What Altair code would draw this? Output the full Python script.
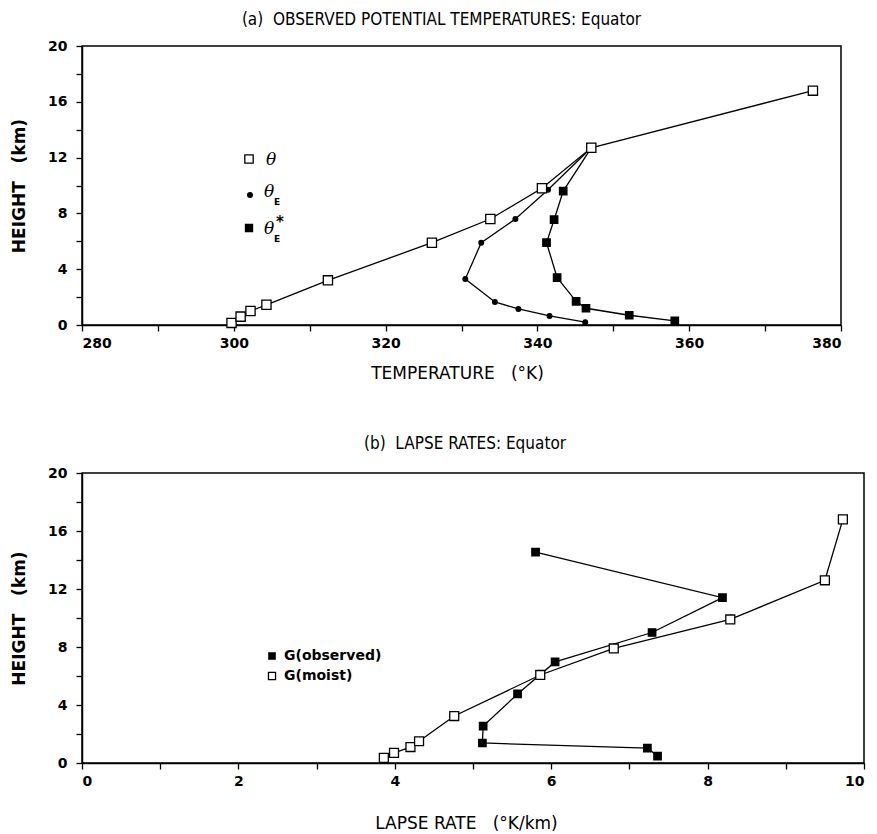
import altair as alt
import pandas as pd

# ---- (a) observed potential temperatures at the equator (K vs km) ----
theta_T = [299.7, 300.9, 302.2, 304.3, 312.4, 326.1, 333.8, 340.6, 347.1, 376.3]
theta_z = [0.15, 0.6, 1.0, 1.45, 3.2, 5.9, 7.6, 9.8, 12.7, 16.8]

theta_e_T = [346.3, 341.6, 337.5, 334.4, 330.5, 332.6, 337.1, 341.4, 347.1]
theta_e_z = [0.2, 0.65, 1.15, 1.65, 3.3, 5.9, 7.6, 9.7, 12.7]

theta_es_T = [358.1, 352.1, 346.4, 345.1, 342.6, 341.2, 342.2, 343.4, 347.1]
theta_es_z = [0.3, 0.7, 1.2, 1.7, 3.4, 5.9, 7.55, 9.6, 12.7]

# ---- (b) lapse rates at the equator (K/km vs km) ----
g_obs_rate = [7.36, 7.23, 5.12, 5.13, 5.57, 6.05, 7.29, 8.19, 5.8]
g_obs_z = [0.48, 1.03, 1.38, 2.55, 4.76, 6.97, 9.0, 11.4, 14.55]

g_moist_rate = [3.86, 3.99, 4.2, 4.31, 4.76, 5.86, 6.8, 8.29, 9.5, 9.73]
g_moist_z = [0.35, 0.7, 1.1, 1.5, 3.24, 6.07, 7.9, 9.9, 12.6, 16.8]

temp_ticks = list(range(280, 381, 10))
rate_ticks = list(range(0, 11, 1))
height_ticks = list(range(0, 21, 2))

LABEL_FONT = "DejaVu Sans"
TITLE_FONT = "'Liberation Sans Narrow', 'DejaVu Sans Condensed', 'Roboto Condensed', 'Liberation Sans', sans-serif"
NB = "\u00a0"


def frame(xs, ys):
    return pd.DataFrame({"x": xs, "y": ys, "i": range(len(xs))})


def encodings(xdom, xticks, xlabel_every, xtitle, xtitle_pad, xtitle_x):
    x = alt.X(
        "x:Q",
        scale=alt.Scale(domain=xdom, nice=False, zero=False),
        axis=alt.Axis(
            values=xticks,
            labelExpr=f"datum.value % {xlabel_every} == 0 ? datum.label : ''",
            title=xtitle,
            titlePadding=xtitle_pad,
            titleFontWeight="normal",
            titleX=xtitle_x,
        ),
    )
    y = alt.Y(
        "y:Q",
        scale=alt.Scale(domain=[0, 20], nice=False),
        axis=alt.Axis(
            values=height_ticks,
            labelExpr="datum.value % 4 == 0 ? datum.label : ''",
            title=f"HEIGHT{NB}{NB}{NB}(km)",
            titleFontWeight="bold",
            titleFontSize=17,
            titlePadding=19,
            labelPadding=9,
        ),
    )
    return x, y


def profile(df, x, y, shape, size, fill):
    base = alt.Chart(df).encode(x=x, y=y, order="i:Q")
    line = base.mark_line(color="black", strokeWidth=1.3)
    pts = base.mark_point(
        shape=shape, size=size, filled=True, fill=fill,
        stroke="black", strokeWidth=1.3, opacity=1,
    )
    return [line, pts]


one = pd.DataFrame({"k": [0]})


def key_point(px, py, shape, size, fill):
    return alt.Chart(one).mark_point(
        shape=shape, size=size, filled=True, fill=fill,
        stroke="black", strokeWidth=1.3, opacity=1,
    ).encode(x=alt.value(px), y=alt.value(py))


def key_text(px, py, txt, font, size, weight="normal", style="normal"):
    return alt.Chart(one).mark_text(
        text=txt, font=font, fontSize=size, fontWeight=weight, fontStyle=style,
        align="left", baseline="middle", color="black",
    ).encode(x=alt.value(px), y=alt.value(py))


# panel (a)
xa, ya = encodings([280, 380], temp_ticks, 20, f"TEMPERATURE{NB}{NB}{NB}(°K)", 15, 375)
layers_a = []
layers_a += profile(frame(theta_e_T, theta_e_z), xa, ya, "circle", 22, "black")
layers_a += profile(frame(theta_es_T, theta_es_z), xa, ya, "square", 55, "black")
layers_a += profile(frame(theta_T, theta_z), xa, ya, "square", 85, "white")
layers_a += [
    key_point(167, 113, "square", 70, "white"),
    key_text(184, 114, "θ", "DejaVu Serif", 17, style="italic"),
    key_point(168, 149, "circle", 22, "black"),
    key_text(182, 146, "θ", "DejaVu Serif", 17, style="italic"),
    key_text(192, 156, "E", LABEL_FONT, 9, weight="bold"),
    key_point(167, 182, "square", 50, "black"),
    key_text(182, 183, "θ", "DejaVu Serif", 17, style="italic"),
    key_text(192, 193, "E", LABEL_FONT, 9, weight="bold"),
    key_text(194, 176, "*", LABEL_FONT, 15, weight="bold"),
]
panel_a = alt.layer(*layers_a).properties(
    width=759, height=279,
    title=alt.TitleParams(
        f"(a){NB}{NB}OBSERVED POTENTIAL TEMPERATURES: Equator",
        anchor="middle", frame="group", dx=-20, offset=10,
    ),
)

# panel (b)
xb, yb = encodings([0, 10], rate_ticks, 2, f"LAPSE RATE{NB}{NB}{NB}(°K/km)", 27, 384)
layers_b = []
layers_b += profile(frame(g_obs_rate, g_obs_z), xb, yb, "square", 55, "black")
layers_b += profile(frame(g_moist_rate, g_moist_z), xb, yb, "square", 80, "white")
layers_b += [
    key_point(190, 183, "square", 40, "black"),
    key_text(202, 183, "G(observed)", LABEL_FONT, 14, weight="bold"),
    key_point(190, 203, "square", 50, "white"),
    key_text(202, 203, "G(moist)", LABEL_FONT, 14, weight="bold"),
]
panel_b = alt.layer(*layers_b).properties(
    width=782, height=290,
    title=alt.TitleParams(
        f"(b){NB}{NB}LAPSE RATES: Equator",
        anchor="middle", frame="group", dx=-8, offset=13,
    ),
)

chart = (
    alt.vconcat(panel_a, panel_b, spacing=52)
    .properties(padding={"left": 9, "top": 10, "right": 5, "bottom": 5}, background="white")
    .configure_view(stroke="black", strokeWidth=1.5)
    .configure_axis(
        grid=False,
        domainColor="black", domainWidth=1.5,
        tickColor="black", tickWidth=1.3, tickSize=6,
        labelFont=LABEL_FONT, labelFontWeight="bold", labelFontSize=14,
        labelColor="black", labelPadding=5,
        titleFont=LABEL_FONT, titleFontSize=17, titleColor="black",
    )
    .configure_title(font=TITLE_FONT, fontSize=17, fontWeight="normal", color="black")
)

chart.save("out.html", embed_options={"renderer": "svg", "actions": False})
